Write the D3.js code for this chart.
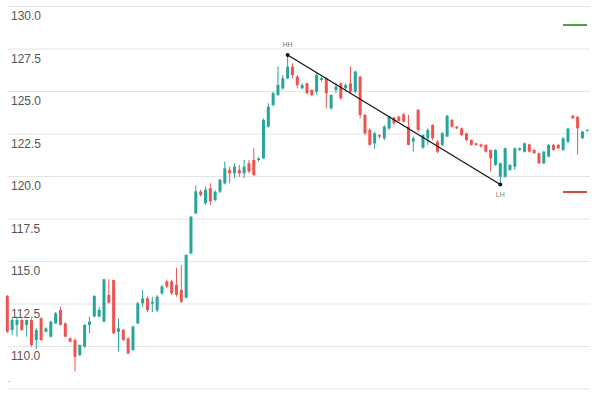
<!DOCTYPE html>
<html>
<head>
<meta charset="utf-8">
<script src="https://cdn.jsdelivr.net/npm/d3@7"></script>
<style>
  html, body { margin: 0; padding: 0; background: #fff; }
  svg { display: block; font-family: "Liberation Sans", Arial, sans-serif; }
</style>
</head>
<body>
<svg id="chart" width="600" height="400"></svg>
<script>
// ---- data ----
const opens = [112.94,110.94,111.24,111.53,111.24,111.53,110.35,111.63,110.84,110.55,
  111.33,112.12,111.33,110.45,110.35,109.47,109.96,111.24,111.73,111.73,
  111.43,113.0,113.88,110.84,110.94,110.45,109.77,111.33,112.51,112.8,
  112.5,112.1,113.1,113.8,113.8,113.6,113.3,112.85,115.45,117.8,
  119.08,118.4,119.28,118.59,119.08,119.57,120.36,120.16,120.36,120.16,
  120.75,120.94,120.94,121.04,122.9,124.18,124.77,125.16,125.75,126.43,
  125.84,125.16,125.45,125.06,124.96,125.65,125.75,123.98,125.06,125.45,
  125.16,125.45,124.96,125.84,123.59,122.71,121.92,122.41,122.22,122.8,
  123.43,123.49,123.62,122.9,122.02,123.88,121.67,122.22,123.0,122.02,
  121.83,122.32,123.3,122.9,122.8,122.51,122.12,121.92,121.86,121.83,
  121.53,120.65,119.96,119.96,120.36,120.55,121.53,121.43,121.86,121.53,
  121.34,120.75,121.14,121.83,121.83,121.53,122.02,123.55,123.49,122.22,
  122.65];
const highs = [113.0,111.63,111.73,111.6,111.55,111.63,111.04,111.7,111.1,111.5,
  112.0,112.3,111.4,110.5,110.45,110.1,111.3,111.73,113.0,112.3,
  113.95,113.92,113.9,111.63,111.0,110.5,111.2,112.6,113.3,112.9,
  112.9,113.0,113.6,113.9,113.9,114.6,114.76,115.4,117.65,119.45,
  119.2,119.38,119.57,119.15,119.85,120.85,120.55,120.75,120.65,120.94,
  120.94,121.63,121.1,123.39,124.28,124.96,126.43,125.94,127.12,126.63,
  125.94,125.45,125.5,125.1,126.04,125.85,125.8,124.8,125.45,125.5,
  125.45,126.43,126.2,125.9,123.65,122.8,122.6,122.45,123.0,123.55,
  123.5,123.55,123.7,123.59,122.32,123.95,122.45,122.8,123.05,122.1,
  122.6,123.59,123.35,122.95,122.85,122.55,122.15,121.95,121.9,121.86,
  121.55,121.58,120.8,121.68,120.7,121.68,121.68,121.97,121.9,121.58,
  121.38,121.48,121.88,121.88,121.88,122.27,122.8,123.6,123.5,122.66,
  122.75];
const lows = [110.75,110.65,110.55,110.9,110.55,109.96,109.8,110.3,110.8,110.5,
  111.3,111.2,110.5,110.2,108.5,109.4,109.9,110.75,111.7,111.7,
  111.4,112.5,110.7,109.67,110.3,109.5,109.7,111.3,112.3,112.0,
  112.0,112.0,113.0,113.4,113.0,112.9,112.53,112.8,115.4,117.75,
  118.8,118.3,118.3,118.5,119.0,119.5,119.57,119.87,119.96,119.87,
  120.16,120.0,120.85,121.0,122.85,124.08,124.7,125.06,125.7,125.75,
  125.16,125.1,124.8,124.7,124.77,125.55,123.98,123.9,124.87,124.5,
  124.96,124.87,124.87,123.39,122.4,121.8,121.6,122.2,122.1,122.7,
  123.0,123.2,123.15,121.8,121.43,122.6,121.6,121.83,122.1,121.35,
  121.75,122.3,122.85,122.75,122.35,122.05,121.78,121.78,121.68,121.38,
  120.26,120.6,119.5,119.9,120.3,120.36,121.48,121.38,121.38,121.3,
  120.7,120.7,121.1,121.48,121.58,121.48,121.92,123.35,121.24,122.17,
  122.62];
const closes = [110.84,111.53,111.53,110.94,111.53,110.06,110.94,110.35,111.04,111.43,
  111.92,111.24,110.55,110.26,109.37,110.06,111.24,111.43,112.94,112.12,
  113.92,112.55,110.75,111.04,110.35,109.57,111.14,112.51,112.8,112.12,
  112.6,112.9,113.5,113.5,113.1,113.0,112.6,115.35,117.6,119.1,
  118.89,119.18,118.5,119.08,119.77,120.45,120.16,120.55,120.16,120.55,
  120.26,120.06,121.04,123.3,124.08,124.87,125.35,125.75,126.43,125.94,
  125.35,125.35,124.87,124.77,125.94,125.75,124.87,124.77,125.26,124.57,
  125.35,124.96,126.14,123.59,122.51,121.83,122.51,122.32,122.9,123.49,
  123.1,123.24,123.2,121.83,122.22,122.71,122.41,122.71,122.22,121.43,
  122.51,123.55,122.9,122.8,122.41,122.12,121.83,121.83,121.73,121.43,
  121.04,121.53,120.75,121.63,120.65,121.63,121.63,121.92,121.43,121.34,
  120.75,121.43,121.83,121.53,121.63,122.22,122.8,123.39,122.8,122.61,
  122.71];

const gridValues = [107.5, 110, 112.5, 115, 117.5, 120, 122.5, 125, 127.5, 130];
const tickLabels = ["110.0", "112.5", "115.0", "117.5", "120.0", "122.5", "125.0", "127.5", "130.0"];
const labelValues = [110, 112.5, 115, 117.5, 120, 122.5, 125, 127.5, 130];

// trend line: candle index and price of its two pivots
const pivotIndex = [58, 102];
const pivotPrice = [127.12, 119.5];
const pivotLabel = ["HH", "LH"];

// level markers on the right
const levelPrice = [128.88, 119.06];
const levelColor = ["#4a9e3f", "#d64a45"];

// ---- drawing ----
const W = 600, H = 400;
const N = opens.length;
const UP = "#26a69a", DOWN = "#ef5350";

const svg = d3.select("#chart");
svg.append("rect").attr("width", W).attr("height", H).attr("fill", "#fff");

const x = d3.scalePoint().domain(d3.range(N)).range([7.3, 587.3]);
const y = d3.scaleLinear().domain([107.5, 130]).range([388.5, 6]);

// gridlines
const grid = svg.append("g").attr("transform", "translate(7,0)")
  .call(d3.axisRight(y).tickValues(gridValues).tickSize(583).tickFormat(""));
grid.select(".domain").remove();
grid.selectAll(".tick line").attr("stroke", "#e4e4e4").attr("stroke-width", 1);

// candles
const candles = d3.range(N).map(i => ({i, o: opens[i], h: highs[i], l: lows[i], c: closes[i]}));
const cg = svg.append("g");
cg.selectAll("line.wick").data(candles).join("line")
  .attr("class", "wick")
  .attr("x1", d => x(d.i)).attr("x2", d => x(d.i))
  .attr("y1", d => y(d.h)).attr("y2", d => y(d.l))
  .attr("stroke", d => d.c >= d.o ? UP : DOWN)
  .attr("stroke-width", 1);
cg.selectAll("rect.body").data(candles).join("rect")
  .attr("class", "body")
  .attr("x", d => x(d.i) - 1.5)
  .attr("width", 3)
  .attr("y", d => y(Math.max(d.o, d.c)))
  .attr("height", d => Math.max(1, Math.abs(y(d.o) - y(d.c))))
  .attr("fill", d => d.c >= d.o ? UP : DOWN);

// trend line and pivots
const pts = pivotIndex.map((idx, k) => ({x: x(idx), y: y(pivotPrice[k]), label: pivotLabel[k]}));
svg.append("line")
  .attr("x1", pts[0].x).attr("y1", pts[0].y)
  .attr("x2", pts[1].x).attr("y2", pts[1].y)
  .attr("stroke", "#111").attr("stroke-width", 1.2);
svg.selectAll("circle.pivot").data(pts).join("circle")
  .attr("class", "pivot")
  .attr("cx", d => d.x).attr("cy", d => d.y).attr("r", 2).attr("fill", "#111");
svg.selectAll("text.pivot").data(pts).join("text")
  .attr("class", "pivot")
  .attr("x", d => d.x)
  .attr("y", (d, k) => k === 0 ? d.y - 8 : d.y + 12)
  .attr("text-anchor", "middle")
  .attr("font-size", 7)
  .attr("fill", "#777")
  .text(d => d.label);

// level markers
svg.selectAll("line.level").data(levelPrice).join("line")
  .attr("class", "level")
  .attr("x1", 563).attr("x2", 587)
  .attr("y1", d => y(d)).attr("y2", d => y(d))
  .attr("stroke", (d, k) => levelColor[k]).attr("stroke-width", 2);

// y labels (drawn over candles)
const lab = svg.append("g").attr("transform", "translate(7,0)")
  .call(d3.axisRight(y).tickValues(labelValues).tickSize(0).tickPadding(4)
    .tickFormat((d, k) => tickLabels[k]));
lab.select(".domain").remove();
lab.selectAll(".tick text")
  .attr("dy", "1.15em")
  .attr("font-size", 12)
  .attr("font-family", "'Liberation Sans', Arial, sans-serif")
  .attr("fill", "#555");

svg.append("text").attr("x", 8).attr("y", 383).attr("font-size", 8).attr("fill", "#888").text("-");
</script>
</body>
</html>
